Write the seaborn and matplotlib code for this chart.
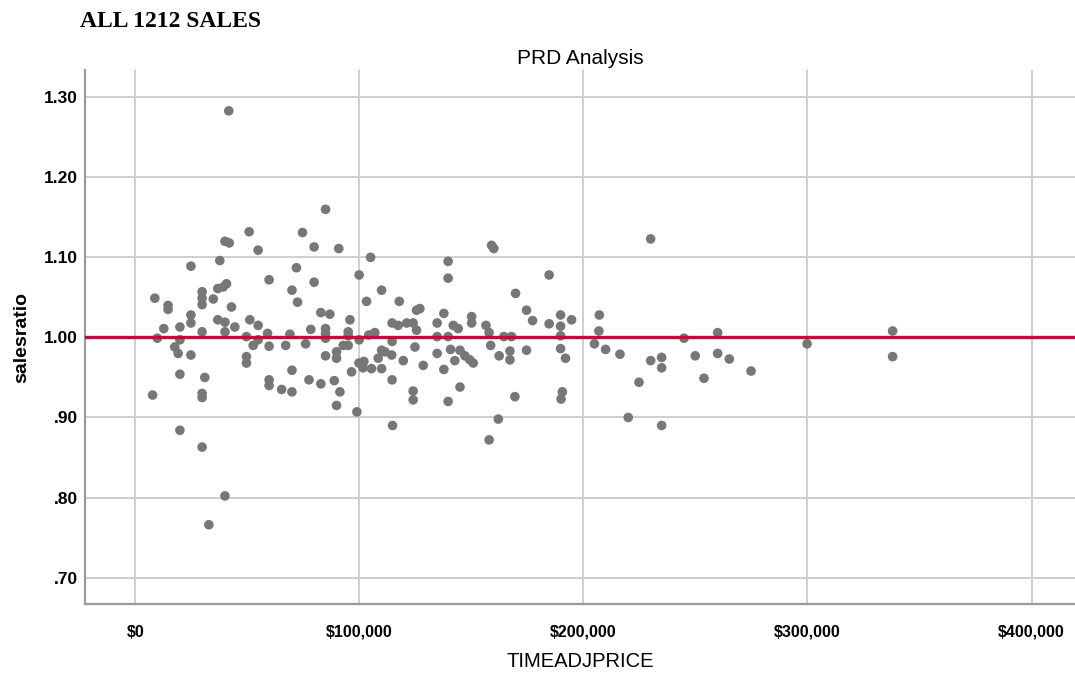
import matplotlib
matplotlib.use("Agg")
import matplotlib.pyplot as plt
import matplotlib.ticker as mticker
import seaborn as sns
import pandas as pd

# time adjusted sale prices
price = [
    7700, 8700, 9800, 12700, 14600, 14600, 17600, 19100, 19900, 19900,
    19900, 19900, 24800, 24800, 24800, 24800, 29800, 29800, 29800, 29800,
    29800, 29800, 29800, 31000, 32800, 34800, 36800, 36800, 37700, 39200,
    40000, 40000, 40000, 40000, 40700, 41700, 41900, 42900, 44400,
    49600, 49600, 49600, 50800, 51100, 52600, 54800, 54800, 54800, 59000,
    59700, 59700, 59700, 59700, 65300, 67100, 69000, 69900, 69900, 69900,
    71900, 72400, 74600, 76000, 77500, 78300, 79800, 79800, 82800, 82800,
    84900, 84900, 84900, 84900, 84900, 86800, 88800, 89800, 89800, 89800,
    90800, 91300, 92800, 95000, 95000, 95000, 95800, 96500, 98900, 99900,
    99900,
    99800, 102000, 101600, 103200, 104200, 105000, 105400, 106900, 108400, 109900,
    109900, 109900, 111400, 114400, 114600, 114600, 114600, 114800, 117300, 117800,
    119600, 121100, 124000, 124000, 124000, 124800, 125500, 127000, 125500, 128500,
    134700, 134700, 134700, 137700, 137700, 139600, 139600, 139600, 139600, 140700,
    141900, 144100, 142600, 144900, 147100, 149300, 150800, 144900, 150100, 150100,
    156500, 157900, 157900, 158600, 159000, 160000, 162000, 162400, 164500, 167900,
    167200, 167200, 169400, 169700, 174600, 174600, 177300, 184700, 184700, 189800,
    189800, 189800, 189800, 192000, 190600, 190000, 194700, 204900, 206900, 207100,
    209900, 216300, 220000, 224800, 230000, 230000, 234900, 234900, 234900, 244900,
    249900, 253800, 259900, 259900, 265100, 274800, 299800, 338000, 338000,
]

# assessed / sale ratio for each sale
salesratio = [
    0.928, 1.049, 0.999, 1.011, 1.040, 1.035, 0.988, 0.980, 1.013, 0.997,
    0.954, 0.884, 1.089, 1.028, 1.018, 0.978, 1.057, 1.049, 1.041, 1.007,
    0.930, 0.925, 0.863, 0.950, 0.766, 1.048, 1.061, 1.022, 1.096, 1.063,
    1.120, 1.019, 1.007, 0.802, 1.067, 1.283, 1.118, 1.038, 1.013,
    1.001, 0.976, 0.968, 1.132, 1.022, 0.990, 1.015, 0.997, 1.109, 1.005,
    1.072, 0.989, 0.947, 0.940, 0.935, 0.990, 1.004, 1.059, 0.959, 0.932,
    1.087, 1.044, 1.131, 0.992, 0.947, 1.010, 1.069, 1.113, 1.031, 0.942,
    1.160, 1.011, 1.005, 0.999, 0.977, 1.029, 0.946, 0.982, 0.974, 0.915,
    1.111, 0.932, 0.990, 0.990, 1.007, 1.002, 1.022, 0.957, 0.907, 1.078,
    0.997,
    0.968, 0.970, 0.962, 1.045, 1.003, 1.100, 0.961, 1.006, 0.974, 1.059,
    0.984, 0.961, 0.982, 0.978, 1.018, 0.995, 0.947, 0.890, 1.015, 1.045,
    0.971, 1.018, 1.018, 0.933, 0.922, 0.988, 1.034, 1.036, 1.009, 0.965,
    1.018, 1.001, 0.980, 1.030, 0.960, 1.095, 1.074, 1.001, 0.920, 0.985,
    1.015, 1.011, 0.971, 0.984, 0.977, 0.972, 0.968, 0.938, 1.026, 1.018,
    1.015, 1.006, 0.872, 0.990, 1.115, 1.111, 0.898, 0.977, 1.001, 1.001,
    0.983, 0.972, 0.926, 1.055, 1.034, 0.984, 1.021, 1.078, 1.017, 1.028,
    1.014, 1.002, 0.986, 0.974, 0.932, 0.923, 1.022, 0.992, 1.008, 1.028,
    0.985, 0.979, 0.900, 0.944, 1.123, 0.971, 0.975, 0.962, 0.890, 0.999,
    0.977, 0.949, 1.006, 0.980, 0.973, 0.958, 0.992, 1.008, 0.976,
]

df = pd.DataFrame({"TIMEADJPRICE": price, "salesratio": salesratio})

x_ticks = [0, 100000, 200000, 300000, 400000]
y_ticks = [0.70, 0.80, 0.90, 1.00, 1.10, 1.20, 1.30]
ref_ratio = 1.00

sns.set_style("whitegrid", {"grid.color": "#cfcfcf", "axes.edgecolor": "#9a9a9a",
                            "text.color": "black", "axes.labelcolor": "black",
                            "xtick.color": "black", "ytick.color": "black"})
plt.rcParams["font.family"] = ["Liberation Sans", "DejaVu Sans"]

fig = plt.figure(figsize=(10.75, 6.73), dpi=100)
ax = fig.add_axes([0.079, 0.1025, 0.921, 0.7935])

sns.scatterplot(data=df, x="TIMEADJPRICE", y="salesratio", ax=ax,
                color="#777777", s=48, edgecolor="none", zorder=3)
ax.axhline(ref_ratio, color="#d4003b", lw=2.4, zorder=4)

ax.set_xlim(-22500, 419400)
ax.set_ylim(0.667, 1.334)
ax.set_xticks(x_ticks)
ax.set_yticks(y_ticks)
ax.xaxis.set_major_formatter(mticker.FuncFormatter(lambda v, p: f"${v:,.0f}"))
ax.yaxis.set_major_formatter(
    mticker.FuncFormatter(lambda v, p: f"{v:.2f}".lstrip("0")))
ax.grid(True, lw=1.4)
ax.tick_params(axis="x", length=0, labelsize=11.5, pad=15)
ax.tick_params(axis="y", length=0, labelsize=12.5, pad=5)
for lab in ax.get_xticklabels() + ax.get_yticklabels():
    lab.set_fontweight("bold")

for side in ["top", "right"]:
    ax.spines[side].set_visible(False)
for side in ["left", "bottom"]:
    ax.spines[side].set_linewidth(1.6)

ax.set_xlabel("TIMEADJPRICE", fontsize=14.5, labelpad=9, color="black")
ax.set_ylabel("salesratio", fontsize=14, fontweight="bold", labelpad=10,
              color="black")
ax.set_title("PRD Analysis", fontsize=15, pad=4, color="black")

fig.text(0.0745, 0.968, "ALL 1212 SALES", family="Liberation Serif",
         fontweight="bold", fontsize=17, va="center", ha="left", color="black")

fig.savefig("out.png", dpi=100)
